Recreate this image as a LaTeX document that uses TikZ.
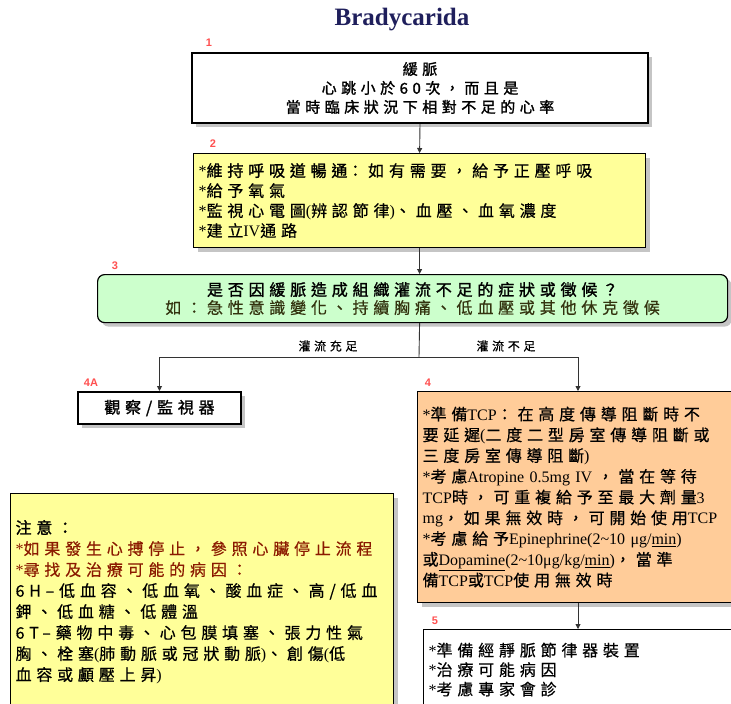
\documentclass[tikz,border=0pt]{standalone}
\usepackage{fontspec}
\setmainfont{Liberation Serif}
\newfontfamily\cjk[LetterSpace=30,FakeBold=0.5]{Noto Sans CJK TC}
\newfontfamily\cjkb[LetterSpace=30,FakeBold=1.5]{Noto Sans CJK TC}
\newfontfamily\latn{Liberation Serif}
\newfontfamily\numf{Liberation Sans}
\usetikzlibrary{arrows.meta,shadows}
\definecolor{boxyellow}{HTML}{FFFF99}
\definecolor{boxgreen}{HTML}{CCFFCC}
\definecolor{boxorange}{HTML}{FFCC99}
\definecolor{numred}{HTML}{FF5050}
\definecolor{titlenavy}{HTML}{1F1F5C}
\definecolor{notered}{HTML}{8B1A00}
\definecolor{dkolive}{HTML}{33330F}
\newcommand{\La}[1]{{\latn #1}}
\tikzset{
  flowbox/.style={draw=black, line width=1.2pt, anchor=north west, inner xsep=5pt, inner ysep=0pt,
    drop shadow={shadow xshift=4pt, shadow yshift=-4pt, fill=black!45}},
  stepnum/.style={text=numred, font=\numf\bfseries\fontsize{11}{11}\selectfont, inner sep=0pt},
  conn/.style={draw=black!80, line width=0.9pt, -{Triangle[length=5pt,width=5pt]}},
  plainline/.style={draw=black!80, line width=0.9pt},
  edgelab/.style={font=\cjk\fontsize{12}{12}\selectfont, inner sep=0pt}
}
\begin{document}
\begin{tikzpicture}[x=1pt,y=-1pt]
\clip (0,0) rectangle (731,704);
\fill[white] (0,0) rectangle (731,704);

\node[font=\latn\bfseries\fontsize{25}{25}\selectfont, text=titlenavy] (title) at (402,20) {Bradycarida};

% step numbers
\node[stepnum] (n1) at (209,43) {1};
\node[stepnum] (n2) at (213,144) {2};
\node[stepnum] (n3) at (115,266) {3};
\node[stepnum] (n4a) at (91,383) {4A};
\node[stepnum] (n4) at (428,383) {4};
\node[stepnum] (n5) at (435,621) {5};

% box 1
\node[flowbox, line width=2pt, fill=white, minimum width=456pt, minimum height=70pt, text width=446pt, align=center,
  font=\cjkb\fontsize{15}{19}\selectfont] (b1) at (191,52)
  {緩脈\\心跳小於60次，而且是\\當時臨床狀況下相對不足的心率};

% box 2
\node[flowbox, fill=boxyellow, minimum width=452pt, minimum height=94pt, text width=442pt, align=left,
  font=\cjk\fontsize{16}{20}\selectfont] (b2) at (193,153)
  {\La{*}{\cjkb 維持呼吸道暢通}：如有需要，給予正壓呼吸\\
   \La{*}給予氧氣\\
   \La{*}監視心電圖\La{(}辨認節律\La{)}、血壓、血氧濃度\\
   \La{*}建立\La{IV}通路};

% box 3
\node[flowbox, rounded corners=7pt, fill=boxgreen, minimum width=630pt, minimum height=48pt, text width=620pt, align=center,
  font=\cjk\fontsize{16}{18}\selectfont] (b3) at (97,274)
  {{\cjkb 是否因緩脈造成組織灌流不足的症狀或徵候？}\\
   \textcolor{dkolive}{如：急性意識變化、持續胸痛、低血壓或其他休克徵候}};

% box 4A
\node[flowbox, line width=2pt, fill=white, minimum width=163pt, minimum height=32pt, text width=153pt, align=center,
  font=\cjkb\fontsize{16}{18}\selectfont] (b4a) at (77,391) {觀察/監視器};

% box 4
\node[flowbox, fill=boxorange, minimum width=400pt, minimum height=211pt, text width=390pt, align=left,
  font=\cjk\fontsize{16}{20.75}\selectfont] (b4) at (417,391)
  {\La{*}準備\La{TCP}：在高度傳導阻斷時不\\
   要延遲\La{(}二度二型房室傳導阻斷或\\
   三度房室傳導阻斷\La{)}\\
   \La{*}考慮\La{Atropine 0.5mg IV} ，當在等待\\
   \La{TCP}時，可重複給予至最大劑量\La{3}\\
   \La{mg}，如果無效時，可開始使用\La{TCP}\\
   \La{*}考慮給予\La{Epinephrine(2\textasciitilde10 μg/\underline{min})}\\
   或\La{\underline{Dopamine}(2\textasciitilde10μg/kg/\underline{min})}，當準\\
   備\La{TCP}或\La{TCP}使用無效時};

% box 5
\node[flowbox, fill=white, minimum width=400pt, minimum height=80pt, text width=390pt, align=left,
  font=\cjk\fontsize{16}{19.5}\selectfont] (b5) at (423,629)
  {\La{*}準備經靜脈節律器裝置\\
   \La{*}治療可能病因\\
   \La{*}考慮專家會診};

% note box
\node[flowbox, fill=boxyellow, minimum width=383pt, minimum height=217pt, text width=373pt, align=left,
  font=\cjk\fontsize{16}{21}\selectfont] (note) at (10,493)
  {{\cjkb 注意：}\\
   \textcolor{notered}{\La{*}如果發生心搏停止，參照心臟停止流程}\\
   \textcolor{notered}{\La{*}尋找及治療可能的病因：}\\
   6H–低血容、低血氧、酸血症、高/低血\\
   鉀、低血糖、低體溫\\
   6T–藥物中毒、心包膜填塞、張力性氣\\
   胸、栓塞\La{(}肺動脈或冠狀動脈\La{)}、創傷\La{(}低\\
   血容或顱壓上昇\La{)}};

% connectors
\coordinate (j) at (419,357);
\coordinate (b4in) at (578,391);
\draw[conn] (b1.south) -- (b2.north);
\draw[conn] (b2.south) -- (b2.south |- b3.north);
\draw[plainline] (b2.south |- b3.south) -- (j);
\draw[conn] (j) -| (b4a.north);
\draw[conn] (j) -| (b4in);
\draw[conn] (b4in |- b4.south) -- (b4in |- b5.north);

\node[edgelab] (l1) at (328,346) {灌流充足};
\node[edgelab] (l2) at (506,346) {灌流不足};
\end{tikzpicture}
\end{document}
